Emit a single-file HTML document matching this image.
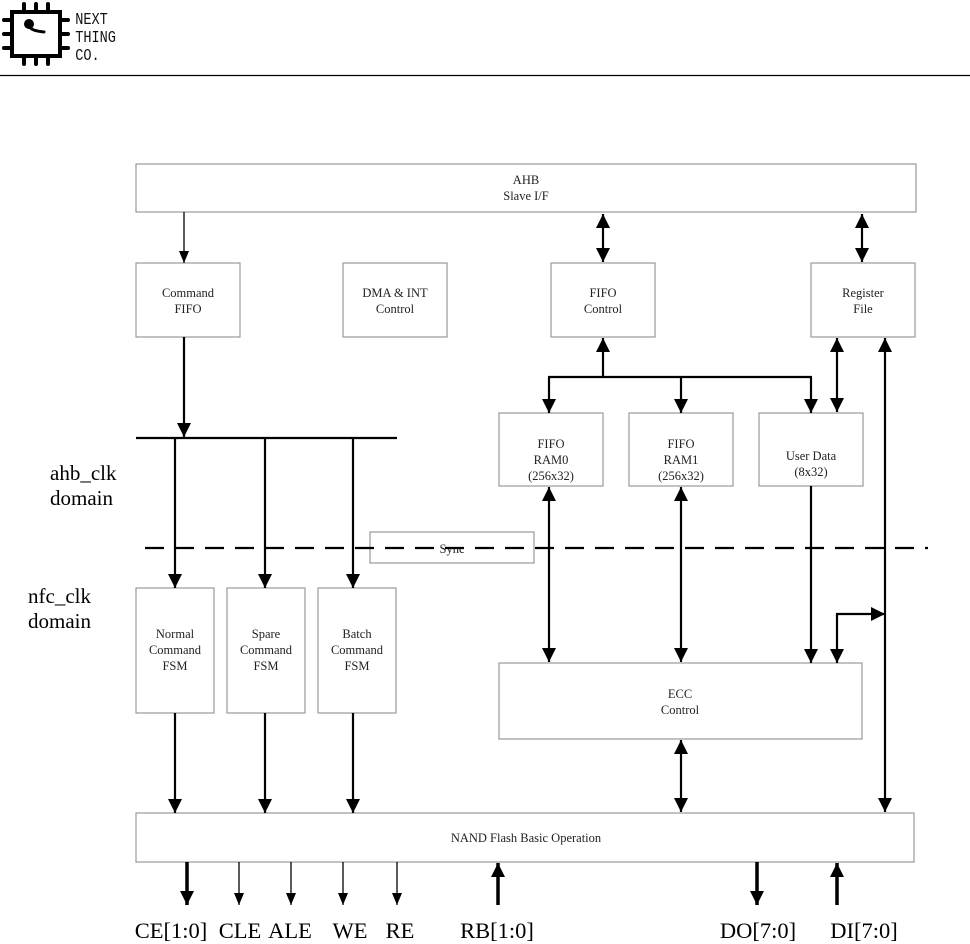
<!DOCTYPE html>
<html><head><meta charset="utf-8"><style>
html,body{margin:0;padding:0;background:#fff;}
svg{display:block;}
.b{fill:#fff;stroke:#999;stroke-width:1.2;}
.t{font-family:"Liberation Serif",serif;font-size:12.5px;text-anchor:middle;fill:#222;}
.L{font-family:"Liberation Serif",serif;font-size:21px;fill:#000;}
.w{stroke:#000;stroke-width:2.2;fill:none;}
.n{stroke:#000;stroke-width:1.3;fill:none;}
.k{stroke:#000;stroke-width:3.5;fill:none;}
</style></head><body>
<svg width="970" height="944" viewBox="0 0 970 944" xmlns="http://www.w3.org/2000/svg">
<defs>
<marker id="a" markerUnits="userSpaceOnUse" markerWidth="14" markerHeight="16" refX="14" refY="7" orient="auto-start-reverse"><path d="M0,0L14,7L0,14z" fill="#000"/></marker>
<marker id="s" markerUnits="userSpaceOnUse" markerWidth="12" markerHeight="12" refX="12" refY="5" orient="auto-start-reverse"><path d="M0,0L12,5L0,10z" fill="#000"/></marker>
</defs>
<!-- logo -->
<g stroke="#000" stroke-width="4" fill="none" stroke-linecap="round">
<rect x="12" y="12" width="48" height="44"/>
<path d="M24,4V12M36,4V12M48,4V12M24,56V64M36,56V64M48,56V64M4,20H12M4,34H12M4,48H12M60,20H68M60,34H68M60,48H68"/>
<path d="M29,25C30,30 36,31 44,32" stroke-width="3"/>
</g>
<circle cx="29" cy="24" r="5" fill="#000"/>
<text font-family="Liberation Mono,monospace" font-size="17" fill="#111" transform="scale(0.8,1)"><tspan x="94" y="24">NEXT</tspan><tspan x="94" y="42">THING</tspan><tspan x="94" y="60">CO.</tspan></text>
<line x1="0" y1="75.5" x2="970" y2="75.5" stroke="#000" stroke-width="1.2"/>

<!-- boxes -->
<rect class="b" x="136" y="164" width="780" height="48"/>
<text class="t" x="526" y="184">AHB</text><text class="t" x="526" y="200">Slave I/F</text>
<rect class="b" x="136" y="263" width="104" height="74"/>
<text class="t" x="188" y="297">Command</text><text class="t" x="188" y="313">FIFO</text>
<rect class="b" x="343" y="263" width="104" height="74"/>
<text class="t" x="395" y="297">DMA &amp; INT</text><text class="t" x="395" y="313">Control</text>
<rect class="b" x="551" y="263" width="104" height="74"/>
<text class="t" x="603" y="297">FIFO</text><text class="t" x="603" y="313">Control</text>
<rect class="b" x="811" y="263" width="104" height="74"/>
<text class="t" x="863" y="297">Register</text><text class="t" x="863" y="313">File</text>
<rect class="b" x="499" y="413" width="104" height="73"/>
<text class="t" x="551" y="448">FIFO</text><text class="t" x="551" y="464">RAM0</text><text class="t" x="551" y="480">(256x32)</text>
<rect class="b" x="629" y="413" width="104" height="73"/>
<text class="t" x="681" y="448">FIFO</text><text class="t" x="681" y="464">RAM1</text><text class="t" x="681" y="480">(256x32)</text>
<rect class="b" x="759" y="413" width="104" height="73"/>
<text class="t" x="811" y="460">User Data</text><text class="t" x="811" y="476">(8x32)</text>
<rect class="b" x="370" y="532" width="164" height="31"/>
<text class="t" x="452" y="553">Sync</text>
<rect class="b" x="136" y="588" width="78" height="125"/>
<text class="t" x="175" y="638">Normal</text><text class="t" x="175" y="654">Command</text><text class="t" x="175" y="670">FSM</text>
<rect class="b" x="227" y="588" width="78" height="125"/>
<text class="t" x="266" y="638">Spare</text><text class="t" x="266" y="654">Command</text><text class="t" x="266" y="670">FSM</text>
<rect class="b" x="318" y="588" width="78" height="125"/>
<text class="t" x="357" y="638">Batch</text><text class="t" x="357" y="654">Command</text><text class="t" x="357" y="670">FSM</text>
<rect class="b" x="499" y="663" width="363" height="76"/>
<text class="t" x="680" y="698">ECC</text><text class="t" x="680" y="714">Control</text>
<rect class="b" x="136" y="813" width="778" height="49"/>
<text class="t" x="526" y="842">NAND Flash Basic Operation</text>

<!-- dashed -->
<line x1="145" y1="548" x2="928" y2="548" stroke="#000" stroke-width="2.2" stroke-dasharray="19,11"/>
<text class="L" x="50" y="480">ahb_clk</text><text class="L" x="50" y="505">domain</text>
<text class="L" x="28" y="603">nfc_clk</text><text class="L" x="28" y="628">domain</text>

<!-- connectors -->
<line class="n" x1="184" y1="212" x2="184" y2="263" marker-end="url(#s)"/>
<line class="w" x1="603" y1="214" x2="603" y2="262" marker-start="url(#a)" marker-end="url(#a)"/>
<line class="w" x1="862" y1="214" x2="862" y2="262" marker-start="url(#a)" marker-end="url(#a)"/>
<line class="w" x1="184" y1="337" x2="184" y2="437" marker-end="url(#a)"/>
<line class="w" x1="136" y1="438" x2="397" y2="438"/>
<line class="w" x1="175" y1="438" x2="175" y2="588" marker-end="url(#a)"/>
<line class="w" x1="265" y1="438" x2="265" y2="588" marker-end="url(#a)"/>
<line class="w" x1="353" y1="438" x2="353" y2="588" marker-end="url(#a)"/>
<line class="w" x1="603" y1="338" x2="603" y2="377" marker-start="url(#a)"/>
<line class="w" x1="548" y1="377" x2="812" y2="377"/>
<line class="w" x1="549" y1="377" x2="549" y2="413" marker-end="url(#a)"/>
<line class="w" x1="681" y1="377" x2="681" y2="413" marker-end="url(#a)"/>
<line class="w" x1="811" y1="377" x2="811" y2="413" marker-end="url(#a)"/>
<line class="w" x1="837" y1="338" x2="837" y2="412" marker-start="url(#a)" marker-end="url(#a)"/>
<line class="w" x1="885" y1="338" x2="885" y2="812" marker-start="url(#a)" marker-end="url(#a)"/>
<line class="w" x1="549" y1="487" x2="549" y2="662" marker-start="url(#a)" marker-end="url(#a)"/>
<line class="w" x1="681" y1="487" x2="681" y2="662" marker-start="url(#a)" marker-end="url(#a)"/>
<line class="w" x1="811" y1="486" x2="811" y2="663" marker-end="url(#a)"/>
<polyline class="w" points="837,663 837,614 885,614" marker-start="url(#a)" marker-end="url(#a)"/>
<line class="w" x1="175" y1="713" x2="175" y2="813" marker-end="url(#a)"/>
<line class="w" x1="265" y1="713" x2="265" y2="813" marker-end="url(#a)"/>
<line class="w" x1="353" y1="713" x2="353" y2="813" marker-end="url(#a)"/>
<line class="w" x1="681" y1="740" x2="681" y2="812" marker-start="url(#a)" marker-end="url(#a)"/>

<!-- bottom -->
<line class="k" x1="187" y1="862" x2="187" y2="905" marker-end="url(#a)"/>
<line class="n" x1="239" y1="862" x2="239" y2="905" marker-end="url(#s)"/>
<line class="n" x1="291" y1="862" x2="291" y2="905" marker-end="url(#s)"/>
<line class="n" x1="343" y1="862" x2="343" y2="905" marker-end="url(#s)"/>
<line class="n" x1="397" y1="862" x2="397" y2="905" marker-end="url(#s)"/>
<line class="k" x1="498" y1="905" x2="498" y2="863" marker-end="url(#a)"/>
<line class="k" x1="757" y1="862" x2="757" y2="905" marker-end="url(#a)"/>
<line class="k" x1="837" y1="905" x2="837" y2="863" marker-end="url(#a)"/>
<g class="L" text-anchor="middle" style="font-size:22.5px">
<text x="171" y="938">CE[1:0]</text>
<text x="240" y="938">CLE</text>
<text x="290" y="938">ALE</text>
<text x="350" y="938">WE</text>
<text x="400" y="938">RE</text>
<text x="497" y="938">RB[1:0]</text>
<text x="758" y="938">DO[7:0]</text>
<text x="864" y="938">DI[7:0]</text>
</g>
</svg>
</body></html>
